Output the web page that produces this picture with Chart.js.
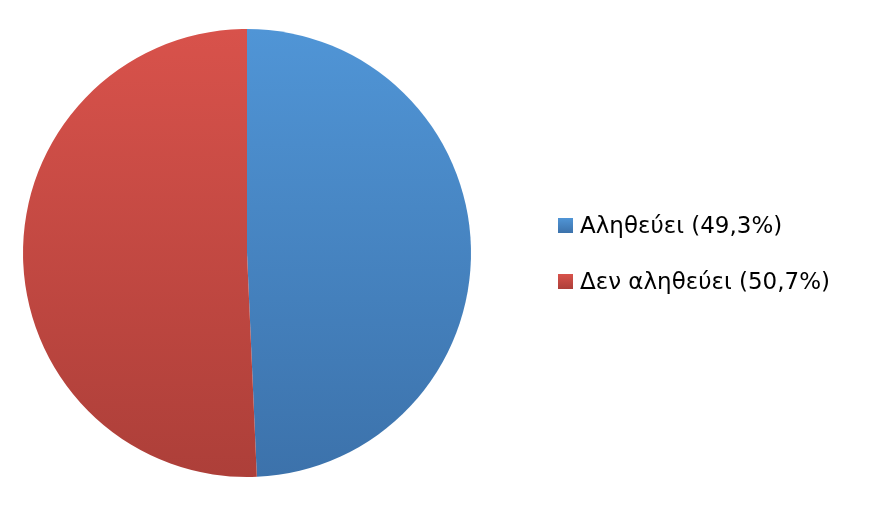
<!DOCTYPE html>
<html>
<head>
<meta charset="utf-8">
<script src="https://cdn.jsdelivr.net/npm/chart.js@4"></script>
<style>
    html, body { margin: 0; padding: 0; background: #fff; }
    #wrap { position: relative; width: 892px; height: 524px; }
    #chart { position: absolute; left: 0; top: 0; }
    #legend { position: absolute; left: 558px; top: 208px; font-family: "DejaVu Sans", sans-serif; font-size: 23px; color: #000; }
    #legend .item { height: 56px; display: flex; align-items: flex-start; }
    #legend .box { width: 15px; height: 15px; margin-top: 10px; margin-right: 7px; }
    #legend .txt { margin-top: 4px; }
</style>
</head>
<body>
<div id="wrap">
    <canvas id="chart" width="892" height="524"></canvas>
    <div id="legend"></div>
</div>
<script>
// Pie data
var labels = ['Αληθεύει (49,3%)', 'Δεν αληθεύει (50,7%)'];
var values = [49.3, 50.7];
var topColors = ['#5095d6', '#d8524b'];
var bottomColors = ['#3c72ab', '#ad3f39'];

(function() {
    'use strict';

    var canvas = document.getElementById('chart');
    var ctx = canvas.getContext('2d');

    // vertical gradient over the pie's height
    function makeGradient(i) {
        var g = ctx.createLinearGradient(0, 29, 0, 477);
        g.addColorStop(0, topColors[i]);
        g.addColorStop(1, bottomColors[i]);
        return g;
    }

    new Chart(canvas, {
        type: 'pie',
        data: {
            labels: labels,
            datasets: [{
                data: values,
                backgroundColor: values.map(function(v, i) { return makeGradient(i); }),
                borderWidth: 0
            }]
        },
        options: {
            responsive: false,
            animation: false,
            layout: {
                padding: { left: 23, right: 421, top: 29, bottom: 47 }
            },
            plugins: {
                legend: { display: false },
                tooltip: { enabled: false }
            }
        }
    });

    // legend as text next to the pie
    var legend = document.getElementById('legend');
    labels.forEach(function(label, i) {
        var item = document.createElement('div');
        item.className = 'item';
        var box = document.createElement('span');
        box.className = 'box';
        box.style.background = 'linear-gradient(' + topColors[i] + ',' + bottomColors[i] + ')';
        var text = document.createElement('span');
        text.className = 'txt';
        text.textContent = label;
        item.appendChild(box);
        item.appendChild(text);
        legend.appendChild(item);
    });
})();
</script>
</body>
</html>
